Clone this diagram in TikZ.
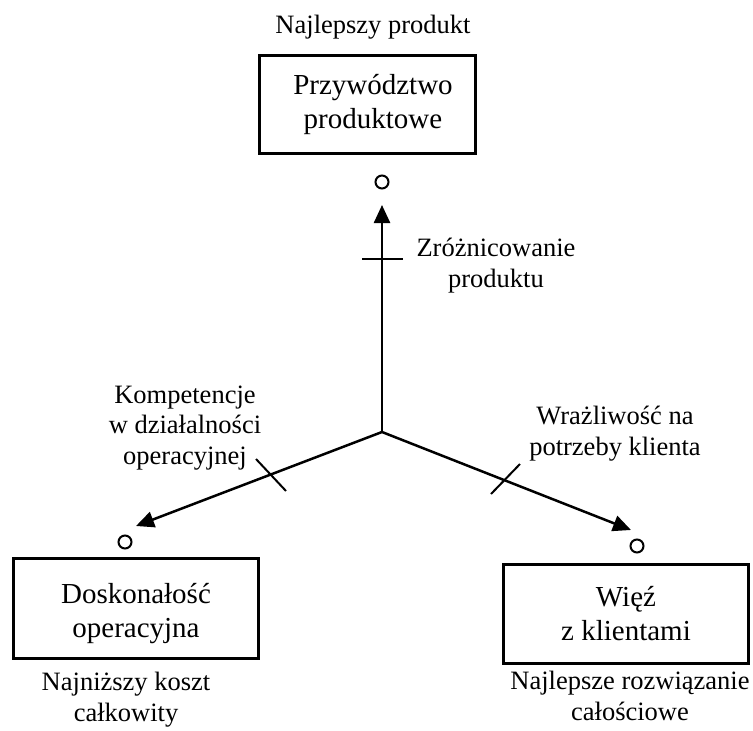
\documentclass[tikz,border=0pt]{standalone}
\usepackage{fontspec}
\setmainfont{Liberation Serif}
\usetikzlibrary{arrows.meta}
\begin{document}
\begin{tikzpicture}[x=1pt,y=-1pt,
  box/.style={draw, line width=3pt, inner sep=0pt},
  boxtext/.style={inner sep=0pt, align=center, anchor=base,
    font=\fontsize{29}{34}\selectfont},
  lbl/.style={inner sep=0pt, align=center, anchor=base,
    font=\fontsize{26.5}{30.5}\selectfont},
  axis/.style={line width=2.5pt, -{Triangle[length=18pt,width=16pt]}},
  tickmark/.style={line width=2pt},
  ring/.style={circle, draw, line width=2pt, minimum size=13pt, inner sep=0pt}]
\useasboundingbox (0,0) rectangle (753,731);

% the three value disciplines (frames, then their captions; base = last line)
\node[box, minimum width=216pt, minimum height=98pt] (lead) at (367,104) {};
\node[box, minimum width=245pt, minimum height=100pt] (oper) at (135.5,608) {};
\node[box, minimum width=245pt, minimum height=99pt] (cust) at (625.5,613.5) {};
\node[boxtext] (leadT) at (373,128) {Przywództwo\\produktowe};
\node[boxtext] (operT) at (136,637) {Doskonałość\\operacyjna};
\node[boxtext] (custT) at (626,640) {Więź\\z klientami};

% end markers of the axes
\node[ring] (rT) at (382,182) {};
\node[ring] (rL) at (125,542) {};
\node[ring] (rR) at (637,546) {};

% axes from the common origin
\coordinate (O) at (382,432);
\coordinate (tipT) at (382,205);
\coordinate (tipL) at (136,526);
\coordinate (tipR) at (631,530);
\draw[axis] (O) -- (tipT);
\draw[axis] (O) -- (tipL);
\draw[axis] (O) -- (tipR);

% threshold marks on the axes
\coordinate (tT1) at (362,259); \coordinate (tT2) at (403,259);
\coordinate (tL1) at (256,459); \coordinate (tL2) at (286,491);
\coordinate (tR1) at (491,494); \coordinate (tR2) at (520,464);
\draw[tickmark] (tT1) -- (tT2);
\draw[tickmark] (tL1) -- (tL2);
\draw[tickmark] (tR1) -- (tR2);

% labels (anchor base sits on the last line)
\node[lbl] (best) at (373,33) {Najlepszy produkt};
\node[lbl] (diff) at (496,287) {Zróżnicowanie\\produktu};
\node[lbl] (comp) at (185,464) {Kompetencje\\w działalności\\operacyjnej};
\node[lbl] (resp) at (615,455) {Wrażliwość na\\potrzeby klienta};
\node[lbl] (cost) at (126,721) {Najniższy koszt\\całkowity};
\node[lbl] (sol) at (630,720) {Najlepsze rozwiązanie\\całościowe};
\end{tikzpicture}
\end{document}
